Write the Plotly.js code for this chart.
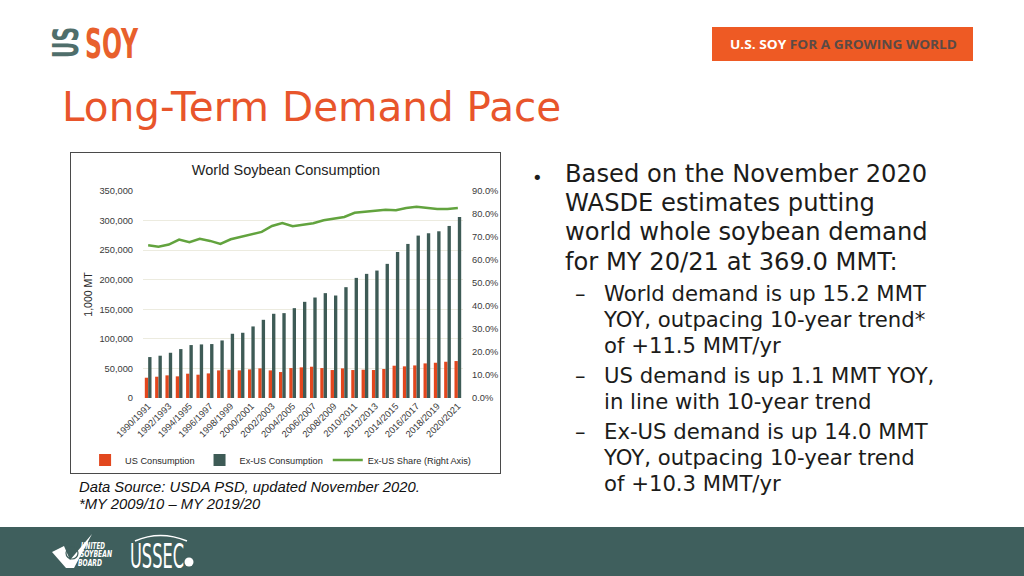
<!DOCTYPE html>
<html>
<head>
<meta charset="utf-8">
<script src="https://cdn.plot.ly/plotly-3.0.1.min.js"></script>
<style>
  html, body { margin:0; padding:0; width:1024px; height:576px; overflow:hidden; background:#ffffff; }
  #deco { position:absolute; left:0; top:0; }
  #frame { position:absolute; left:70px; top:152px; width:431px; height:322px; border:1px solid #4a4a4a; box-sizing:border-box; }
  #chart { position:absolute; left:71px; top:152px; width:430px; height:322px; }
  .txt { position:absolute; font-family:"DejaVu Sans", Verdana, sans-serif; color:#1c1c1a; white-space:nowrap; }
  .main { left:565px; top:160px; font-size:24.2px; line-height:29.2px; }
  .sub { left:604px; font-size:21.2px; line-height:26px; }
  .mark { position:absolute; font-family:"DejaVu Sans", Verdana, sans-serif; color:#1c1c1a; }
  .note { position:absolute; left:79px; font-family:"Liberation Sans", Arial, sans-serif; font-style:italic; font-size:14.8px; color:#111; white-space:nowrap; line-height:17px; }
</style>
</head>
<body>
<svg id="deco" width="1024" height="576" xmlns="http://www.w3.org/2000/svg">
  <!-- US SOY logo -->
  <text transform="translate(78,58) rotate(-90)" font-family="DejaVu Sans Condensed, DejaVu Sans" font-weight="bold" font-size="35" fill="#4F6E6B" textLength="31" lengthAdjust="spacingAndGlyphs">US</text>
  <text x="85" y="58" font-family="DejaVu Sans Condensed, DejaVu Sans" font-weight="bold" font-size="41" fill="#E8602C" textLength="53" lengthAdjust="spacingAndGlyphs">SOY</text>
  <!-- banner -->
  <rect x="712" y="27" width="261" height="34" fill="#EE5A24"/>
  <text x="730" y="49" font-family="Open Sans, sans-serif" font-weight="bold" font-size="12" textLength="227" lengthAdjust="spacingAndGlyphs"><tspan fill="#ffffff">U.S. SOY </tspan><tspan fill="#5b4a45">FOR A GROWING WORLD</tspan></text>
  <!-- title -->
  <text x="62" y="121" font-family="DejaVu Sans, Verdana, sans-serif" font-size="40.5" fill="#E8552B">Long-Term Demand Pace</text>
  <!-- footer -->
  <rect x="0" y="527" width="1024" height="49" fill="#3F5F5D"/>
  <path d="M52 552 L64 546 L70 560 L92 534 L74 568 L66 568 Z" fill="#ffffff"/>
  <circle cx="72" cy="553" r="6" fill="none" stroke="#3F5F5D" stroke-width="1.2"/>
  <text x="81" y="549" font-family="DejaVu Sans Condensed, DejaVu Sans" font-style="italic" font-weight="bold" font-size="8" fill="#ffffff" textLength="24" lengthAdjust="spacingAndGlyphs">UNITED</text>
  <text x="80" y="557" font-family="DejaVu Sans Condensed, DejaVu Sans" font-style="italic" font-weight="bold" font-size="8" fill="#ffffff" textLength="32" lengthAdjust="spacingAndGlyphs">SOYBEAN</text>
  <text x="78" y="566" font-family="DejaVu Sans Condensed, DejaVu Sans" font-style="italic" font-weight="bold" font-size="8" fill="#ffffff" textLength="24" lengthAdjust="spacingAndGlyphs">BOARD</text>
  <path d="M135 541 Q160 530 187 541" fill="none" stroke="#ffffff" stroke-width="1.5"/>
  <text x="130" y="568" font-family="DejaVu Sans Condensed, DejaVu Sans" font-size="34" fill="#ffffff" textLength="54" lengthAdjust="spacingAndGlyphs">USSEC</text>
  <circle cx="189" cy="562" r="4.5" fill="#ffffff"/>
</svg>

<div id="frame"></div>
<div id="chart"></div>

<span class="mark" style="left:532px; top:163px; font-size:18px; line-height:29px;">•</span>
<div class="txt main">Based on the November 2020<br>WASDE estimates putting<br>world whole soybean demand<br>for MY 20/21 at 369.0 MMT:</div>

<span class="mark" style="left:575px; top:281px; font-size:21px; line-height:26px;">–</span>
<div class="txt sub" style="top:281px;">World demand is up 15.2 MMT<br>YOY, outpacing 10-year trend*<br>of +11.5 MMT/yr</div>

<span class="mark" style="left:575px; top:363px; font-size:21px; line-height:26px;">–</span>
<div class="txt sub" style="top:363px;">US demand is up 1.1 MMT YOY,<br>in line with 10-year trend</div>

<span class="mark" style="left:575px; top:419px; font-size:21px; line-height:26px;">–</span>
<div class="txt sub" style="top:419px;">Ex-US demand is up 14.0 MMT<br>YOY, outpacing 10-year trend<br>of +10.3 MMT/yr</div>

<div class="note" style="top:479px;">Data Source: USDA PSD, updated November 2020.<br>*MY 2009/10 – MY 2019/20</div>

<script>
// Marketing years
const years = [
  "1990/1991","1991/1992","1992/1993","1993/1994","1994/1995","1995/1996","1996/1997","1997/1998",
  "1998/1999","1999/2000","2000/2001","2001/2002","2002/2003","2003/2004","2004/2005","2005/2006",
  "2006/2007","2007/2008","2008/2009","2009/2010","2010/2011","2011/2012","2012/2013","2013/2014",
  "2014/2015","2015/2016","2016/2017","2017/2018","2018/2019","2019/2020","2020/2021"
];
// Tick labels shown on the x axis (every other year)
const tickLabels = [
  "1990/1991","1992/1993","1994/1995","1996/1997","1998/1999","2000/2001","2002/2003","2004/2005",
  "2006/2007","2008/2009","2010/2011","2012/2013","2014/2015","2016/2017","2018/2019","2020/2021"
];
// US consumption, 1,000 MT
const usConsumption = [
  34300, 36000, 38300, 36600, 41100, 39400, 41600, 46700, 47800, 46700, 48400,
  50100, 46700, 43900, 50600, 51800, 52900, 50600, 47300, 50100, 47300, 47800,
  47300, 49000, 54600, 53500, 55100, 58500, 59600, 61300, 62500
];
// Ex-US consumption, 1,000 MT
const exUsConsumption = [
  69200, 71500, 76500, 82700, 89500, 90600, 91200, 97300, 108600, 110300, 121000,
  132200, 142400, 143500, 151900, 162600, 169900, 177300, 173300, 187400, 203100, 209900,
  215500, 226800, 247000, 260500, 274600, 278500, 281900, 290900, 306000
];
// Ex-US share of world consumption (right axis)
const exUsShare = [
  0.664, 0.658, 0.667, 0.689, 0.677, 0.692, 0.683, 0.670, 0.690, 0.700, 0.710,
  0.722, 0.748, 0.761, 0.747, 0.755, 0.760, 0.773, 0.781, 0.787, 0.805, 0.809,
  0.815, 0.818, 0.816, 0.826, 0.831, 0.825, 0.822, 0.822, 0.826
];

const traces = [
  { type:'bar', name:'US Consumption', x:years, y:usConsumption, marker:{color:'#E2471E'}, hoverinfo:'skip' },
  { type:'bar', name:'Ex-US Consumption', x:years, y:exUsConsumption, marker:{color:'#3E5B56'}, hoverinfo:'skip' },
  { type:'scatter', mode:'lines', name:'Ex-US Share (Right Axis)', x:years, y:exUsShare, yaxis:'y2',
    line:{color:'#62A33E', width:2.5}, hoverinfo:'skip' }
];

const layout = {
  width:430, height:322,
  margin:{l:72, r:38, t:39, b:76, autoexpand:false},
  paper_bgcolor:'rgba(0,0,0,0)', plot_bgcolor:'rgba(0,0,0,0)',
  font:{family:'"Liberation Sans", Arial, sans-serif', size:9.3, color:'#3a3a3a'},
  title:{text:'World Soybean Consumption', font:{size:14.5, color:'#1e1e1e'},
         x:0.5, xanchor:'center', xref:'container', y:0.944, yref:'container', yanchor:'middle'},
  barmode:'group', bargap:0.35, bargroupgap:0,
  xaxis:{type:'category', categoryorder:'array', categoryarray:years, tickmode:'array', tickvals:tickLabels, ticktext:tickLabels,
         tickangle:-45, showgrid:false, showline:false, zeroline:false, ticks:'', tickfont:{size:9.3}, automargin:false},
  yaxis:{range:[0,350000], dtick:50000, tickformat:',', gridcolor:'#ecebdf', gridwidth:1, zeroline:false, showline:false,
         ticks:'', ticklabelstandoff:9, automargin:false,
         title:{text:'1,000 MT', font:{size:10.5, color:'#2a2a2a'}, standoff:4}},
  yaxis2:{overlaying:'y', side:'right', range:[0,0.9], dtick:0.1, tickformat:'.1%', showgrid:false, zeroline:false,
          showline:false, ticks:'', ticklabelstandoff:8, automargin:false},
  legend:{orientation:'h', xref:'paper', yref:'paper', x:-0.181, xanchor:'left', y:-0.30, yanchor:'middle',
          font:{size:9.2, color:'#2a2a2a'}, bgcolor:'rgba(0,0,0,0)', itemwidth:30},
  showlegend:true
};

Plotly.newPlot('chart', traces, layout, {displayModeBar:false, staticPlot:true});
</script>
</body>
</html>
